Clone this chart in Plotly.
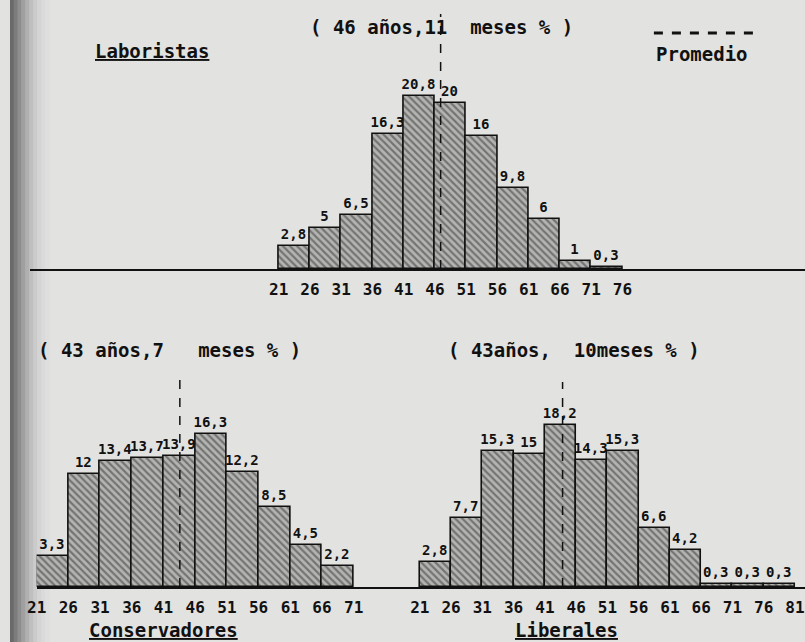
import plotly.graph_objects as go

# ---- data ----
lab_edges = [21, 26, 31, 36, 41, 46, 51, 56, 61, 66, 71, 76]
lab_values = [2.8, 5, 6.5, 16.3, 20.8, 20, 16, 9.8, 6, 1, 0.3]
lab_mean = 46 + 11 / 12

con_edges = [21, 26, 31, 36, 41, 46, 51, 56, 61, 66, 71]
con_values = [3.3, 12, 13.4, 13.7, 13.9, 16.3, 12.2, 8.5, 4.5, 2.2]
con_mean = 43 + 7 / 12

lib_edges = [21, 26, 31, 36, 41, 46, 51, 56, 61, 66, 71, 76, 81]
lib_values = [2.8, 7.7, 15.3, 15, 18.2, 14.3, 15.3, 6.6, 4.2, 0.3, 0.3, 0.3]
lib_mean = 43 + 10 / 12

W, H = 805, 642
PAPER = "#e2e2e0"
FONT = "DejaVu Sans Mono"


def fmt(v):
    return ("%g" % v).replace(".", ",")


fig = go.Figure()

pattern = dict(shape="\\", fgcolor="#333333", bgcolor="#b4b4b2", size=5, solidity=0.45)

for edges, vals, xa, ya in [
    (lab_edges, lab_values, "x", "y"),
    (con_edges, con_values, "x2", "y2"),
    (lib_edges, lib_values, "x3", "y3"),
]:
    fig.add_trace(go.Bar(
        x=edges[:-1], y=vals, width=5, offset=0,
        xaxis=xa, yaxis=ya,
        marker=dict(color="#b4b4b2", pattern=pattern,
                    line=dict(color="#111111", width=1.6)),
        text=[fmt(v) for v in vals], textposition="outside", constraintext="none",
        textfont=dict(family=FONT, size=14, color="#111111", weight="bold"),
        cliponaxis=False, showlegend=False,
    ))


def px_x(p):
    return p / W


def px_y(p):
    return 1 - p / H


tickfont = dict(family=FONT, size=16, color="#111111", weight="bold")
common_x = dict(showline=True, linecolor="#111111", linewidth=2, showgrid=False,
                zeroline=False, ticks="outside", ticklen=5, tickcolor="rgba(0,0,0,0)",
                tickfont=tickfont)

s_top = 6.33
fig.update_layout(
    xaxis=dict(domain=[px_x(20), 1], range=[21 - 252 / s_top, 21 + 533 / s_top],
               tickvals=lab_edges, ticktext=[str(e) for e in lab_edges], anchor="y", **common_x),
    yaxis=dict(domain=[px_y(269), 1], range=[0, 269 / 8.3], visible=False, anchor="x"),
    xaxis2=dict(domain=[px_x(27), px_x(400)], range=[21, 21 + 373 / 6.42],
                tickvals=con_edges, ticktext=[str(e) for e in con_edges], anchor="y2", **common_x),
    yaxis2=dict(domain=[px_y(587), px_y(334)], range=[0, 253 / 9.4], visible=False, anchor="x2"),
    xaxis3=dict(domain=[px_x(400), 1], range=[21 - 15 / 6.33, 21 + 390 / 6.33],
                tickvals=lib_edges, ticktext=[str(e) for e in lib_edges], anchor="y3", **common_x),
    yaxis3=dict(domain=[px_y(587), px_y(334)], range=[0, 253 / 8.9], visible=False, anchor="x3"),
)

dash = dict(color="#111111", width=1.5, dash="dash")
fig.add_shape(type="line", xref="x", yref="paper", x0=lab_mean, x1=lab_mean,
              y0=px_y(269), y1=px_y(14), line=dash)
fig.add_shape(type="line", xref="x2", yref="paper", x0=con_mean, x1=con_mean,
              y0=px_y(587), y1=px_y(378), line=dash)
fig.add_shape(type="line", xref="x3", yref="paper", x0=lib_mean, x1=lib_mean,
              y0=px_y(587), y1=px_y(382), line=dash)

# legend mark for "Promedio"
fig.add_shape(type="line", xref="paper", yref="paper", x0=px_x(652), x1=px_x(755),
              y0=px_y(33), y1=px_y(33), line=dict(color="#111111", width=3, dash="dash"))

# gutter shading on the left edge
gut = ["#6a6a6a", "#7c7c7c", "#8e8e8e", "#a0a0a0", "#b0b0b0", "#bfbfbf",
       "#cbcbcb", "#d4d4d4", "#dadada", "#dedede"]
for i, c in enumerate(gut):
    fig.add_shape(type="rect", xref="paper", yref="paper", x0=px_x(i * 4), x1=px_x(i * 4 + 4),
                  y0=0, y1=1, line=dict(width=0), fillcolor=c, layer="below")

txt = dict(family=FONT, size=19, color="#111111", weight="bold")
ann = [
    ("( 46 años,11  meses % )", 437, 27),
    ("<u>Laboristas</u>", 144, 51),
    ("Promedio", 701, 54),
    ("( 43 años,7   meses % )", 162, 350),
    ("( 43años,  10meses % )", 571, 350),
    ("<u>Conservadores</u>", 155, 630),
    ("<u>Liberales</u>", 563, 630),
]
for t, x, y in ann:
    fig.add_annotation(text=t, xref="paper", yref="paper",
                       x=px_x(x), y=px_y(y), showarrow=False, font=txt,
                       xanchor="center", yanchor="middle")

fig.update_layout(
    width=W, height=H, margin=dict(l=0, r=0, t=0, b=0),
    paper_bgcolor=PAPER, plot_bgcolor="rgba(0,0,0,0)",
    bargap=0, font=dict(family=FONT, color="#111111"),
)

fig.write_html("out.html", config={"displayModeBar": False},
               post_script="document.body.style.margin='0';document.body.style.overflow='hidden';")
